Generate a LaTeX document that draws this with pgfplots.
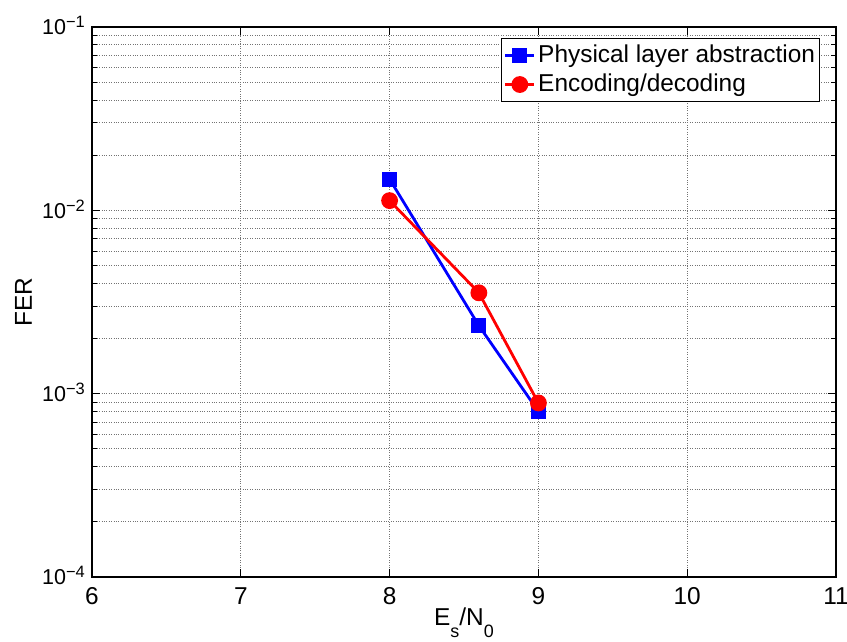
\documentclass[border=0pt]{standalone}
\usepackage{pgfplots}
\pgfplotsset{compat=1.18}
\usepackage{fontspec}
\setmainfont{Liberation Sans}
\newcommand{\ylab}[1]{\fontsize{21.6}{24}\selectfont 10\raisebox{7bp}{\fontsize{16.5}{18}\selectfont #1}}
\begin{document}
\fontsize{24.5}{29}\selectfont
\begin{tikzpicture}
\begin{axis}[
  scale only axis, width=744bp, height=550bp,
  ymode=log, xmin=6, xmax=11, ymin=1e-4, ymax=1e-1,
  xtick={6,7,8,9,10,11}, xticklabels={6,7,8,9,10,11},
  ytick={1e-4,1e-3,1e-2,1e-1},
  yticklabels={{\ylab{−4}},{\ylab{−3}},{\ylab{−2}},{\ylab{−1}}},
  minor ytick={2e-4,3e-4,4e-4,5e-4,6e-4,7e-4,8e-4,9e-4,2e-3,3e-3,4e-3,5e-3,6e-3,7e-3,8e-3,9e-3,2e-2,3e-2,4e-2,5e-2,6e-2,7e-2,8e-2,9e-2},
  tick align=inside, major tick length=8bp, minor tick length=5bp,
  tick style={black, line width=0.9bp},
  grid=both,
  major grid style={black!55, dotted, line width=0.9bp},
  minor grid style={black!55, dotted, line width=0.9bp},
  axis line style={black, line width=1.2bp},
  xlabel={E\raisebox{-12bp}{\fontsize{18}{20}\selectfont s}/N\raisebox{-12bp}{\fontsize{18}{20}\selectfont 0}},
  ylabel={FER},
  xlabel style={at={([yshift=-48bp]rel axis cs:0.5,0)}, anchor=base, inner sep=0pt},
  ylabel style={at={([xshift=-60bp]rel axis cs:0,0.5)}, anchor=base, inner sep=0pt},
  xticklabel style={anchor=north, inner sep=0pt, yshift=-10bp},
  yticklabel style={anchor=base east, inner sep=0pt, xshift=-7bp, yshift=-7.7bp},
  legend cell align=left,
  legend style={at={([xshift=-16bp,yshift=-11bp]rel axis cs:1,1)}, anchor=north east,
    draw=black, line width=1bp, inner xsep=2bp, inner ysep=3.5bp, row sep=3bp,
    nodes={inner sep=2.5bp}},
  legend image code/.code={\draw[mark repeat=2,mark phase=2,#1] plot coordinates {(0bp,0bp) (14.5bp,0bp) (29bp,0bp)};},
]
\addplot[blue, line width=2.8bp, mark=square*, mark size=6bp, mark options={solid, fill=blue}]
  coordinates {(8,0.0148) (8.6,0.00235) (9,0.00080)};
\addlegendentry{Physical layer abstraction}
\addplot[red, line width=2.8bp, mark=*, mark size=7bp, mark options={solid, fill=red}]
  coordinates {(8,0.0113) (8.6,0.00355) (9,0.00089)};
\addlegendentry{Encoding/decoding}
\end{axis}
\pgfresetboundingbox
\path ([shift={(-92bp,-65bp)}]current axis.south west) rectangle ([shift={(11bp,27bp)}]current axis.north east);
\end{tikzpicture}
\end{document}
